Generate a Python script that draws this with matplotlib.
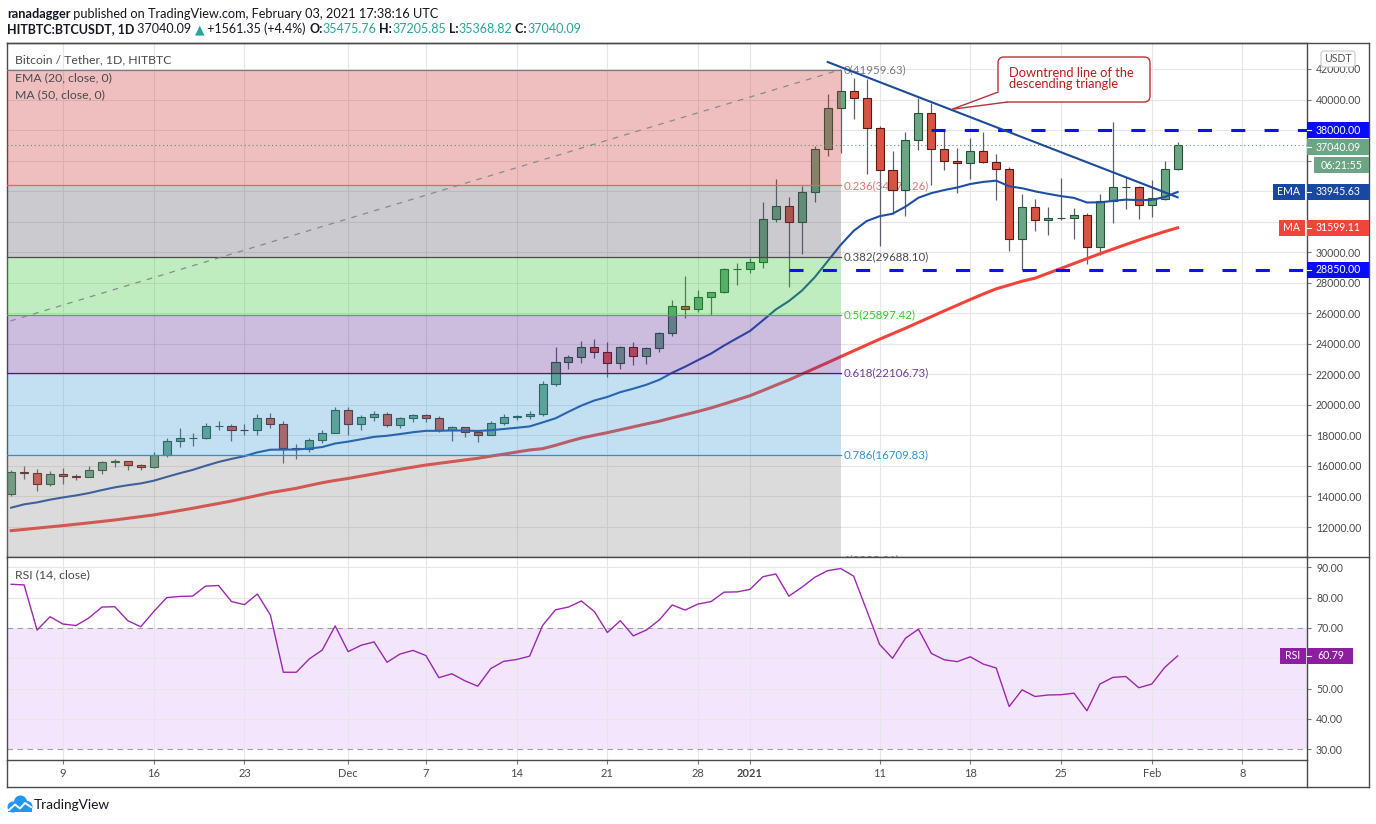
import numpy as np
import pandas as pd
import matplotlib
matplotlib.use('Agg')
import matplotlib.pyplot as plt
from matplotlib.patches import Rectangle, FancyBboxPatch, Polygon, Circle
from matplotlib.lines import Line2D
from matplotlib.text import Annotation
from matplotlib.transforms import Affine2D, blended_transform_factory

plt.rcParams['font.family'] = ['Lato', 'DejaVu Sans']

# ---- data (daily candles, HitBTC BTC/USDT) ----
start_date = '2020-11-05'
end_date = '2021-02-03'

opens = [14133, 15579, 15565, 14833, 15479, 15332, 15291, 15701, 16276, 16317, 16068, 15955, 16716,
         17645, 17804, 17817, 18621, 18642, 18370, 18364, 19160, 18719, 17149, 17139, 17720, 18178,
         19695, 18765, 19205, 19422, 18650, 19147, 19358, 19166, 18324, 18541, 18254, 18036, 18808,
         19175, 19273, 19426, 21335, 22797, 23107, 23821, 23455, 22719, 23810, 23232, 23729, 24712,
         26493, 26281, 27079, 27385, 28875,
         28923, 29331, 32176, 33000, 31989, 33949, 36769, 39432, 40586, 40088, 38150, 35410, 34049,
         37371, 39145, 36737, 35995, 35824, 36622, 35901, 35468, 30851, 32950, 32078, 32240, 32251,
         32465, 30362, 33368, 34246, 34262,
         33092, 33517, 35475.76]
highs = [15750, 15965, 15770, 15646, 15840, 15460, 15965, 16340, 16480, 16326, 16134, 16894, 17858,
         18476, 18179, 18815, 18965, 18750, 18770, 19418, 19484, 18915, 17457, 17853, 18354, 19863,
         19888, 19342, 19566, 19527, 19177, 19420, 19400, 19294, 18639, 18557, 18292, 18948, 19411,
         19349, 19570, 21560, 23800, 23285, 24171, 24295, 24102, 23837, 24100, 23794, 24789, 26867,
         28422, 27500, 27380, 28996, 29300,
         29600, 33300, 34778, 33600, 34360, 36939, 40365, 41959.63, 41380, 41350, 38264, 36628, 37850,
         40100, 39747, 37950, 36852, 37469, 37850, 36415, 35600, 33826, 33456, 32944, 34881, 32921,
         32557, 33783, 38531, 34933, 34342,
         34717, 35984, 37205.85]
lows = [14050, 15166, 14344, 14702, 14805, 15070, 15271, 15440, 15952, 15716, 15765, 15868, 16560,
        17214, 17335, 17740, 18370, 17610, 18000, 18019, 18500, 16188, 16438, 16888, 17518, 18178,
        18001, 18330, 18926, 18565, 18500, 18857, 18902, 18200, 17650, 17911, 17572, 18020, 18711,
        19000, 19050, 19278, 21230, 22350, 22750, 23060, 21815, 22353, 22600, 22703, 23433, 24500,
        25700, 26101, 25880, 27320, 27850,
        28624, 28946, 31962, 27750, 29900, 33288, 36300, 36500, 38720, 35111, 30420, 32531, 32380,
        36701, 34408, 35357, 33850, 34800, 35844, 33400, 30071, 28850, 31390, 31106, 32087, 30837,
        29241, 29842, 31915, 32825, 32171,
        32296, 33418, 35368.82]
closes = [15579, 15565, 14833, 15479, 15332, 15291, 15701, 16276, 16317, 16068, 15955, 16716, 17645,
          17804, 17817, 18621, 18642, 18370, 18364, 19160, 18719, 17149, 17139, 17720, 18178, 19695,
          18765, 19205, 19422, 18650, 19147, 19359, 19166, 18324, 18541, 18254, 18036, 18808, 19175,
          19273, 19426, 21335, 22797, 23107, 23821, 23455, 22719, 23810, 23232, 23729, 24712, 26493,
          26281, 27079, 27385, 28875, 28923,
          29331, 32178, 33000, 31988, 33949, 36769, 39432, 40582, 40088, 38150, 35404, 34051, 37371,
          39144, 36742, 35994, 35828, 36631, 35891, 35468, 30850, 32945, 32078, 32259, 32260, 32467,
          30366, 33364, 34252, 34262, 33092,
          33526, 35466, 37040.09]

ema20 = [13265, 13484, 13612, 13790, 13937, 14066, 14222, 14417, 14598, 14738, 14854, 15031, 15280,
         15520, 15739, 16010, 16260, 16461, 16642, 16889, 17063, 17071, 17077, 17138, 17237, 17470,
         17593, 17746, 17905, 17976, 18087, 18208, 18299, 18301, 18324, 18317, 18290, 18339, 18419,
         18500, 18588, 18850, 19121, 19548, 19955, 20288, 20520, 20833, 21061, 21315, 21639, 22101,
         22499, 22935, 23359, 23884, 24364,
         24837, 25536, 26247, 26794, 27475, 28360, 29415, 30478, 31393, 32037, 32357, 32519, 32981,
         33568, 33870, 34072, 34239, 34467, 34603, 34685, 34320, 34189, 33988, 33823, 33674, 33559,
         33255, 33265, 33359, 33445, 33411,
         33422, 33617, 33945.63]
ma50 = [11760, 11840, 11925, 12010, 12090, 12180, 12270, 12365, 12460, 12570, 12680, 12790, 12935,
        13080, 13225, 13385, 13540, 13700, 13880, 14065, 14250, 14390, 14535, 14720, 14900, 15050,
        15180, 15330, 15480, 15630, 15780, 15920, 16060, 16170, 16280, 16390, 16500, 16640, 16770,
        16910, 17045, 17130, 17350, 17600, 17830, 18010, 18180, 18370, 18560, 18750, 18930, 19150,
        19360, 19570, 19800, 20060, 20330,
        20600, 20940, 21290, 21630, 22010, 22390, 22770, 23155, 23540, 23920, 24300, 24660, 25020,
        25400, 25780, 26160, 26530, 26900, 27260, 27600, 27850, 28100, 28300, 28620, 28940, 29260,
        29580, 29900, 30200, 30500, 30800,
        31080, 31350, 31599.11]
rsi14 = [84.4, 84.2, 69.3, 73.7, 71.3, 70.8, 73.3, 76.9, 77.0, 72.4, 70.4, 75.4, 80.0, 80.4, 80.5,
         83.8, 84.0, 78.7, 77.7, 81.2, 74.3, 55.4, 55.4, 59.8, 62.7, 70.7,
         62.2, 64.3, 65.4, 58.7, 61.4, 62.6, 60.9, 53.6, 54.9, 52.6, 50.8, 56.6, 59.0, 59.6, 60.7,
         70.8, 76.0, 76.9, 78.9, 75.4, 68.5, 72.4, 67.4, 69.3, 72.6, 77.6, 75.9, 77.9, 78.7, 81.8, 81.9,
         82.7, 86.9, 87.8, 80.5, 83.4, 86.7, 88.9, 89.6, 87.1, 75.9, 64.6, 60.0, 66.6, 69.6, 61.6,
         59.5, 58.9, 60.5, 58.1, 56.8, 44.1, 49.6, 47.4, 47.9, 48.0, 48.5, 42.7, 51.5, 53.7, 54.0, 50.3,
         51.5, 57.0, 60.79]

fib_levels = [0, 0.236, 0.382, 0.5, 0.618, 0.786, 1]
fib_prices = [41959.63, 34378.26, 29688.10, 25897.42, 22106.73, 16709.83, 9835.21]
fib_from, fib_to = '2020-09-05', '2021-01-08'

trend_dates = ['2021-01-07', '2021-02-03']
trend_prices = [42458, 33596]

hlines = [38000, 28850]
hline_from = ['2021-01-15', '2021-01-04']

last_price = 37040.09
ema_last = 33945.63
ma_last = 31599.11
rsi_last = 60.79
countdown = '06:21:55'

tick_dates = ['2020-11-09', '2020-11-16', '2020-11-23', '2020-12-01', '2020-12-07', '2020-12-14',
              '2020-12-21', '2020-12-28', '2021-01-01', '2021-01-11', '2021-01-18', '2021-01-25',
              '2021-02-01', '2021-02-08']
tick_labels = ['9', '16', '23', 'Dec', '7', '14', '21', '28', '2021', '11', '18', '25', 'Feb', '8']
price_ticks = list(range(12000, 42001, 2000))
rsi_ticks = [30, 40, 50, 60, 70, 80, 90]
# scale labels that sit under the coloured value boxes
covered_price = [32000, 34000, 36000, 38000]
covered_rsi = [60]

# ---- layout ----
dates = pd.date_range(start_date, end_date, freq='D')
x = np.arange(len(dates))


def day(d):
    return (pd.Timestamp(d) - dates[0]).days


W, H = 1376, 824
fig = plt.figure(figsize=(W / 100, H / 100), dpi=100)
fig.patch.set_facecolor('white')
pxt = Affine2D().scale(1 / W, -1 / H).translate(0, 1) + fig.transFigure   # pixel coords, y down


def frac(l, t, r, b):
    return [l / W, 1 - b / H, (r - l) / W, (b - t) / H]


ax = fig.add_axes(frac(7, 43, 1307, 557))
rs = fig.add_axes(frac(7, 557, 1307, 760), sharex=ax)
ax.set_xlim(-0.32, 99.98)
ax.set_ylim(10035, 43703)
rs.set_ylim(26.47, 93.4)

DARK = '#131722'
AXC = '#4a4a4a'
for a in (ax, rs):
    a.set_facecolor('white')
    for s in a.spines.values():
        s.set_color(AXC)
        s.set_linewidth(1.0)
    a.yaxis.tick_right()
    a.tick_params(axis='y', direction='out', length=3, width=0.8, color='#777',
                  labelsize=7.6, labelcolor=AXC, pad=3.5)
    a.set_axisbelow(True)
    a.grid(axis='x', color='#e6e6e6', lw=0.8)

ax.set_yticks(price_ticks)
ax.set_yticklabels(['' if v in covered_price else f'{v:.2f}' for v in price_ticks])
ax.grid(axis='y', color='#e6e6e6', lw=0.8)
rs.set_yticks(rsi_ticks)
rs.set_yticklabels(['' if v in covered_rsi else f'{v:.2f}' for v in rsi_ticks])
for v in rsi_ticks:
    if v not in (30, 70):
        rs.axhline(v, color='#e6e6e6', lw=0.8, zorder=0.5)

rs.set_xticks([day(d) for d in tick_dates])
rs.set_xticklabels(tick_labels)
rs.tick_params(axis='x', direction='out', length=3, width=0.8, color='#777',
               labelsize=8, labelcolor=AXC, pad=3)
ax.tick_params(axis='x', bottom=False, labelbottom=False)
for lab in rs.get_xticklabels():
    if lab.get_text() == '2021':
        lab.set_fontweight('bold')

# ---- candles ----
o, h, l, c = map(np.array, (opens, highs, lows, closes))
up = c >= o
body_c = np.where(up, '#6ba583', '#d75442').tolist()
edge_c = np.where(up, '#225437', '#5b1a13').tolist()
ax.vlines(x, l, h, color='#5d606b', lw=0.9, zorder=2)
ax.bar(x, np.abs(c - o), bottom=np.minimum(o, c), width=0.62, color=body_c,
       edgecolor=edge_c, linewidth=0.8, zorder=2.1)

ax.plot(x, ema20, color='#1f4fa3', lw=1.5, zorder=2.5)
ax.plot(x, ma50, color='#f0443a', lw=2.2, zorder=2.5)

# ---- fibonacci retracement (drawn over the candles, semi transparent) ----
f0, f1 = day(fib_from), day(fib_to)
fill_colors = ['#cd2d2d', '#525262', '#2dc62d', '#582698', '#3a98d4', '#8a8a8a']
line_colors = ['#787b86', '#e06666', '#4a4a4a', '#3cb93c', '#4a1a86', '#2f8fd0', '#787b86']
label_colors = ['#787b86', '#e57373', '#4a4a4a', '#2ecc2e', '#6a3d9a', '#2b93d8', '#787b86']
for i in range(len(fib_prices) - 1):
    ax.fill_between([f0, f1], fib_prices[i + 1], fib_prices[i], color=fill_colors[i],
                    alpha=0.3, lw=0, zorder=3)
for lv, p, lc, tc in zip(fib_levels, fib_prices, line_colors, label_colors):
    ax.plot([f0, f1], [p, p], color=lc, lw=0.9, zorder=3.2)
    ax.text(f1 + 0.2, p, f'{lv:g}({p:.2f})', color=tc, fontsize=8.3, va='center', ha='left',
            zorder=1.8, clip_on=True)
ax.plot([f0, f1], [fib_prices[-1], fib_prices[0]], color='#8a8a8a', lw=0.9,
        ls=(0, (4.5, 5)), zorder=3.3)

ax.axhline(last_price, color='#5f8f72', lw=0.8, ls=(0, (1, 2.5)), zorder=3.4)
for v, d in zip(hlines, hline_from):
    ax.plot([day(d), 101], [v, v], color='#0f0fff', lw=2.2, ls=(0, (4.6, 6.3)), zorder=3.5)
ax.plot([day(d) for d in trend_dates], trend_prices, color='#1d4b9b', lw=1.5, zorder=3.6)

# ---- RSI ----
rs.axhspan(30, 70, color='#f3e6fc', lw=0, zorder=0.3)
rs.axhline(70, color='#a0a0a0', lw=0.8, ls=(0, (5, 4)), zorder=1)
rs.axhline(30, color='#a0a0a0', lw=0.8, ls=(0, (5, 4)), zorder=1)
rs.plot(x, rsi14, color='#9c27b0', lw=1.0, zorder=3)

# ---- callout ----
RED = '#b5343a'
fig.add_artist(FancyBboxPatch((998, 57), 152, 45, boxstyle='round,pad=0,rounding_size=6',
                              transform=pxt, fc='white', ec=RED, lw=1, zorder=6))
fig.add_artist(Polygon([(999.5, 90.5), (952, 109.3), (1008.5, 101.5)], closed=True,
                       transform=pxt, fc='white', ec='none', zorder=6.1))
fig.add_artist(Line2D([998.3, 952, 1007.5], [92, 109.3, 102], transform=pxt, color=RED,
                      lw=1, zorder=6.2))
fig.text(1009, 78.5, 'Downtrend line of the\ndescending triangle', transform=pxt,
         color='#b71c1c', fontsize=9.3, va='center', ha='left', linespacing=0.9, zorder=7)


# ---- right scale labels ----
def vbox(a, hpx, val, x0, x1, color, text, dy=0, ha='left', tick=True):
    y0, y1 = a.get_ylim()
    dpp = (y1 - y0) / hpx
    yc = val - dy * dpp
    tr = blended_transform_factory(pxt, a.transData)
    fig.add_artist(Rectangle((x0, yc - 8 * dpp), x1 - x0, 16 * dpp, transform=tr, fc=color,
                             ec='none', zorder=20))
    if tick:
        fig.add_artist(Line2D([1307, 1311], [yc, yc], transform=tr, color='white', lw=0.8,
                              zorder=21))
    tx = x0 + 9 if ha == 'left' else (x0 + x1) / 2
    fig.text(tx, yc, text, transform=tr, color='white', fontsize=7.6, va='center', ha=ha,
             zorder=22)


vbox(ax, 514, hlines[0], 1307, 1369, '#0a0aff', f'{hlines[0]:.2f}')
vbox(ax, 514, last_price, 1307, 1369, '#6ba583', f'{last_price:.2f}', dy=2.3)
vbox(ax, 514, last_price, 1314, 1369, '#6ba583', countdown, dy=20.3, ha='center', tick=False)
vbox(ax, 514, ema_last, 1307, 1369, '#1848a0', f'{ema_last:.2f}')
vbox(ax, 514, ema_last, 1273, 1305, '#1848a0', 'EMA', ha='center', tick=False)
vbox(ax, 514, ma_last, 1307, 1369, '#f0453a', f'{ma_last:.2f}')
vbox(ax, 514, ma_last, 1279, 1305, '#f0453a', 'MA', ha='center', tick=False)
vbox(ax, 514, hlines[1], 1307, 1369, '#0a0aff', f'{hlines[1]:.2f}')
vbox(rs, 203, rsi_last, 1308, 1353, '#8c1ea0', f'{rsi_last:.2f}', ha='center')
vbox(rs, 203, rsi_last, 1280, 1306, '#8c1ea0', 'RSI', ha='center', tick=False)

fig.add_artist(FancyBboxPatch((1321, 51), 34, 16, boxstyle='round,pad=0,rounding_size=3',
                              transform=pxt, fc='white', ec='#c9c9c9', lw=0.8, zorder=20))
fig.text(1338, 59, 'USDT', transform=pxt, color='#555555', fontsize=7.6, ha='center',
         va='center', zorder=21)

# frame lines around the scale column and date row
for xs, ys in [([7, 1369], [43, 43]), ([1369, 1369], [43, 787]), ([1307, 1369], [557, 557]),
               ([7, 1369], [787, 787]), ([7, 7], [760, 787]), ([1307, 1307], [760, 787])]:
    fig.add_artist(Line2D(xs, ys, transform=pxt, color=AXC, lw=1, zorder=5))

# ---- pane legends ----
fig.text(15, 60, 'Bitcoin / Tether, 1D, HITBTC', transform=pxt, fontsize=8.8, color=AXC,
         va='center', zorder=10)
fig.text(15, 78, 'EMA (20, close, 0)', transform=pxt, fontsize=8.8, color=AXC, va='center',
         zorder=10)
fig.text(15, 95, 'MA (50, close, 0)', transform=pxt, fontsize=8.8, color=AXC, va='center',
         zorder=10)
fig.text(15, 575, 'RSI (14, close)', transform=pxt, fontsize=8.8, color=AXC, va='center',
         zorder=10)


# ---- header ----
def chain(items, x0, ybase, fs=9.2):
    s, col, wt = items[0]
    prev = fig.text(x0, ybase, s, transform=pxt, fontsize=fs, color=col, fontweight=wt,
                    va='baseline')
    for s, col, wt in items[1:]:
        a = Annotation(s, xy=(1, 0), xycoords=prev, va='bottom', ha='left', fontsize=fs,
                       color=col, fontweight=wt)
        fig.add_artist(a)
        prev = a


TEAL = '#26a69a'
chain([('ranadagger', DARK, 'bold'),
       (' published on TradingView.com, February 03, 2021 17:38:16 UTC', DARK, 'normal')], 7, 18)
chain([('HITBTC:BTCUSDT, 1D', DARK, 'bold'), (' 37040.09 ', DARK, 'normal'),
       ('\u25b2', TEAL, 'normal'), (' +1561.35 (+4.4%) ', DARK, 'normal'),
       ('O:', DARK, 'bold'), ('35475.76', TEAL, 'normal'),
       (' H:', DARK, 'bold'), ('37205.85', TEAL, 'normal'),
       (' L:', DARK, 'bold'), ('35368.82', TEAL, 'normal'),
       (' C:', DARK, 'bold'), ('37040.09', TEAL, 'normal')], 7, 33, fs=9.0)

# ---- TradingView logo ----
for cx, cy, r in [(13, 807, 5.5), (20.5, 802, 6.5), (27, 806.5, 5.5)]:
    fig.add_artist(Circle((cx, cy), r, transform=pxt, fc='#2196f3', ec='none', zorder=5))
fig.add_artist(Rectangle((8, 806), 24, 6.5, transform=pxt, fc='#2196f3', ec='none', zorder=5))
fig.add_artist(Line2D([9, 15, 20, 25, 31], [810, 804.5, 808.5, 803, 807], transform=pxt,
                      color='white', lw=1.4, zorder=6))
fig.text(34, 805, 'TradingView', transform=pxt, fontsize=9.8, color=DARK, va='center')

fig.savefig('out.png', dpi=100, facecolor='white')
